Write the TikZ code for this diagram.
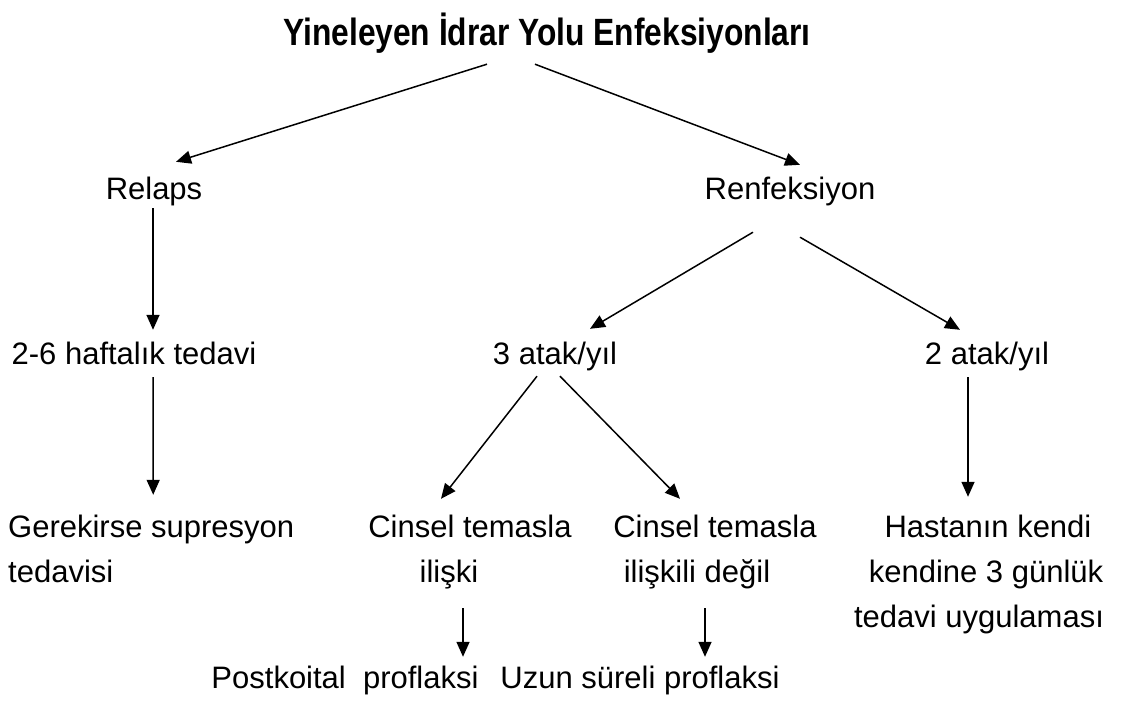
\documentclass[tikz,border=0pt]{standalone}
\usepackage{fontspec}
\setmainfont{Liberation Sans}
\newfontfamily\titlefont[FakeStretch=0.835]{Liberation Sans}
\usetikzlibrary{arrows.meta}

\tikzset{
  txt/.style={font=\fontsize{31}{44}\selectfont, inner sep=0pt, anchor=base, text height=23pt, text depth=7pt},
  ttl/.style={txt, font=\titlefont\bfseries\fontsize{38}{44}\selectfont, text height=28pt, text depth=8pt},
  arr/.style={-{Triangle[length=15pt,width=13pt]}, line width=1.5pt},
}

\begin{document}
\begin{tikzpicture}[x=1pt, y=-1pt]
    \useasboundingbox (0,0) rectangle (1130,706);

    % Title
    \node[ttl] (title) at (547,46) {Yineleyen İdrar Yolu Enfeksiyonları};

    % First level
    \node[txt] (relaps) at (154,199) {Relaps};
    \node[txt] (renf) at (790,199) {Renfeksiyon};

    % Second level
    \node[txt] (haft) at (134,364) {2-6 haftalık tedavi};
    \node[txt] (atak3) at (555,364) {3 atak/yıl};
    \node[txt] (atak2) at (987,364) {2 atak/yıl};

    % Third level
    \node[txt, anchor=base west] (gerekA) at (8,537) {Gerekirse supresyon};
    \node[txt, anchor=base west] (gerekB) at (8,582) {tedavisi};
    \node[txt] (cinsA1) at (470,537) {Cinsel temasla};
    \node[txt] (cinsA2) at (449,582) {ilişki};
    \node[txt] (cinsB1) at (715,537) {Cinsel temasla};
    \node[txt] (cinsB2) at (697,582) {ilişkili değil};
    \node[txt] (hastaA) at (988,537) {Hastanın kendi};
    \node[txt] (hastaB) at (986,582) {kendine 3 günlük};
    \node[txt] (hastaC) at (979,627) {tedavi uygulaması};

    % Bottom
    \node[txt] (post) at (345,688) {Postkoital\ \ proflaksi};
    \node[txt] (uzun) at (640,688) {Uzun süreli proflaksi};

    % Arrows
    \draw[arr] ([shift={(-60,10)}]title.south) -- ([shift={(22,-14)}]relaps.north);
    \draw[arr] ([shift={(-12,10)}]title.south) -- ([shift={(10,-11)}]renf.north);
    \draw[arr] ([shift={(-1,2)}]relaps.south) -- ([shift={(19,-11)}]haft.north);
    \draw[arr] ([shift={(19,6)}]haft.south) -- ([shift={(2,-19)}]gerekA.north);
    \draw[arr] ([shift={(-37,26)}]renf.south) -- ([shift={(35,-12)}]atak3.north);
    \draw[arr] ([shift={(10,31)}]renf.south) -- ([shift={(-27,-11)}]atak2.north);
    \draw[arr] ([shift={(-18,5)}]atak3.south) -- ([shift={(-29,-15)}]cinsA1.north);
    \draw[arr] ([shift={(5,5)}]atak3.south) -- ([shift={(-35,-15)}]cinsB1.north);
    \draw[arr] ([shift={(-19,6)}]atak2.south) -- ([shift={(-20,-17)}]hastaA.north);
    \draw[arr] ([shift={(14,19)}]cinsA2.south) -- ([shift={(118,-8)}]post.north);
    \draw[arr] ([shift={(8,19)}]cinsB2.south) -- ([shift={(65,-8)}]uzun.north);
\end{tikzpicture}
\end{document}
